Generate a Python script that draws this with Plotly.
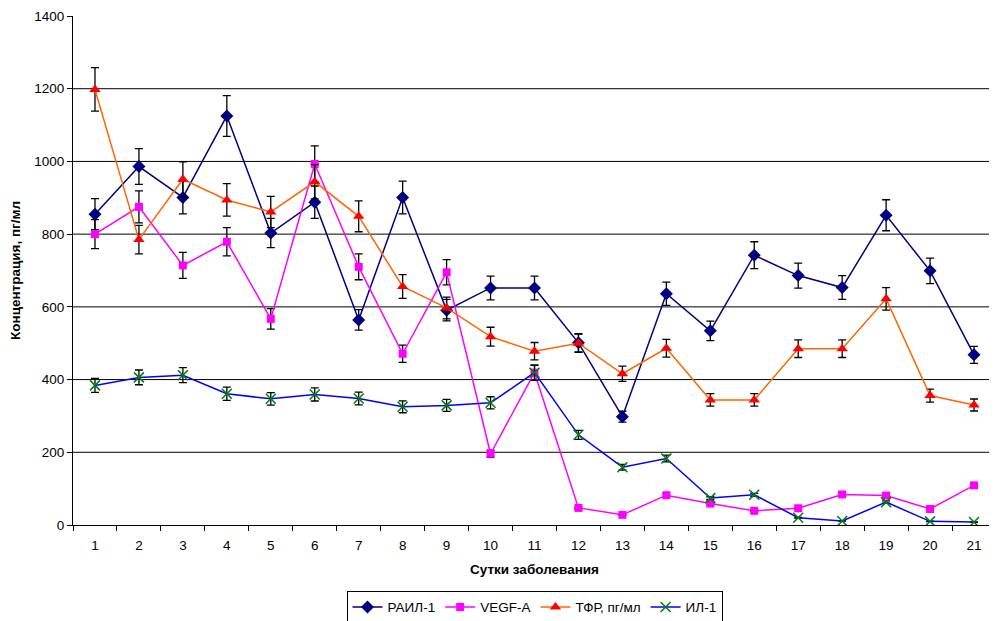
import plotly.graph_objects as go

days = [str(i) for i in range(1, 22)]
rail1 = [855, 986, 901, 1125, 803, 888, 564, 901, 591, 652, 652, 501, 298, 636, 534, 742, 686, 653, 852, 699, 468]
vegfa = [800, 875, 714, 779, 567, 993, 710, 471, 695, 196, 419, 47, 28, 82, 59, 39, 46, 84, 81, 44, 109]
tfr = [1198, 785, 951, 894, 861, 944, 849, 656, 597, 518, 478, 500, 416, 486, 344, 344, 485, 485, 622, 356, 330]
il1 = [384, 406, 412, 361, 347, 359, 348, 325, 329, 336, 419, 248, 159, 183, 74, 83, 20, 11, 63, 10, 8]

y_ticks = [0, 200, 400, 600, 800, 1000, 1200, 1400]
err_pct = 5

font = "Liberation Sans, Arial, sans-serif"
eb = dict(type="percent", value=err_pct, color="#000000", thickness=1.3, width=4)

fig = go.Figure()
fig.add_trace(go.Scatter(x=days, y=rail1, name="РАИЛ-1", mode="lines+markers",
                         line=dict(color="#000080", width=1.5),
                         marker=dict(symbol="diamond", size=10, color="#000080"),
                         error_y=eb))
fig.add_trace(go.Scatter(x=days, y=vegfa, name="VEGF-A", mode="lines+markers",
                         line=dict(color="#FF00FF", width=1.5),
                         marker=dict(symbol="square", size=8, color="#FF00FF"),
                         error_y=eb))
fig.add_trace(go.Scatter(x=days, y=tfr, name="ТФР, пг/мл", mode="lines+markers",
                         line=dict(color="#FF6600", width=1.5),
                         marker=dict(symbol="triangle-up", size=10, color="#FF0000"),
                         error_y=eb))
fig.add_trace(go.Scatter(x=days, y=il1, name="ИЛ-1", mode="lines+markers",
                         line=dict(color="#0000FF", width=1.5),
                         marker=dict(symbol="x-thin", size=10, color="#008000",
                                     line=dict(color="#008000", width=1.5)),
                         error_y=eb))

shapes = []
for v in y_ticks[1:-1]:
    shapes.append(dict(type="line", xref="paper", yref="y", x0=0, x1=1, y0=v, y1=v,
                       line=dict(color="#000000", width=1), layer="below"))

fig.update_layout(
    width=989, height=613,
    margin=dict(l=65, r=1, t=8, b=96, autoexpand=False),
    paper_bgcolor="white", plot_bgcolor="white",
    font=dict(family=font, size=13.5, color="#000000"),
    shapes=shapes,
    showlegend=True,
    legend=dict(orientation="h", x=0.5, xanchor="center", y=-0.129, yanchor="top",
                bordercolor="#000000", borderwidth=1, font=dict(size=13.5, family=font),
                itemwidth=30, tracegroupgap=0),
    xaxis=dict(type="category", range=[-0.5, 20.5], tickson="boundaries", ticks="outside", ticklen=5,
               tickcolor="#000000", showline=True, linecolor="#000000", linewidth=1,
               showgrid=False, zeroline=False, tickfont=dict(size=13.5), automargin=False,
               ticklabelstandoff=8,
               title=dict(text="<b>Сутки заболевания</b>", font=dict(size=13.5), standoff=12)),
    yaxis=dict(range=[0, 1400], tickvals=y_ticks, ticks="outside", ticklen=5,
               tickcolor="#000000", showline=True, linecolor="#000000", linewidth=1,
               showgrid=False, zeroline=False, tickfont=dict(size=13.5), automargin=False,
               ticklabeloverflow="allow",
               title=dict(text="<b>Концентрация, пг/мл</b>", font=dict(size=13.5), standoff=10)),
)

fig.write_html("out.html")
